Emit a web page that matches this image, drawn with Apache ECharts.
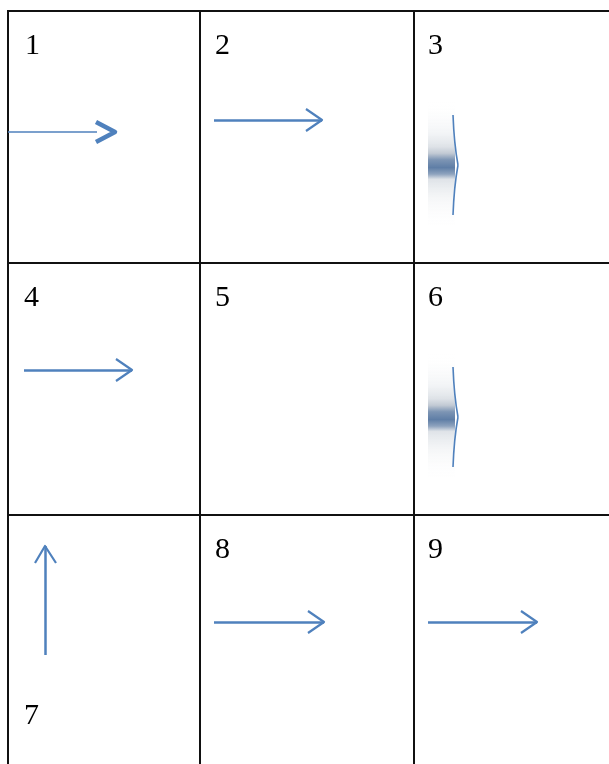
<!DOCTYPE html>
<html>
<head>
<meta charset="utf-8">
<title>grid</title>
<script src="https://cdn.jsdelivr.net/npm/echarts@6/dist/echarts.min.js"></script>
<style>
html, body { margin: 0; padding: 0; background: #fff; }
#main { width: 609px; height: 764px; }
</style>
</head>
<body>
<div id="main"></div>
<script type="text/javascript">
// table borders (in page units, same scale as the axes)
var colEdges = [8, 200, 414];
var rowEdges = [11, 263, 515];

// cell numbers and where they sit
var cellLabels = ['1', '2', '3', '4', '5', '6', '7', '8', '9'];
var labelX = [25, 215, 428, 24, 215, 428, 24, 215, 428];
var labelY = [46, 46, 46, 298, 298, 298, 716, 550, 550];

// arrow shafts: [x1, y1, x2, y2]
var shafts = [
    [8, 132, 97, 132],
    [214, 120, 322, 120],
    [24, 370, 132, 370],
    [45, 655, 45, 546],
    [214, 622, 324, 622],
    [428, 622, 537, 622]
];
// arrow heads: [tipX, tipY, wingA x, y, wingB x, y]
var heads = [
    [115, 132, 96, 122, 96, 142],
    [322, 120, 306, 109, 306, 131],
    [132, 370, 116, 359, 116, 381],
    [45, 546, 35, 563, 56, 563],
    [324, 622, 308, 611, 308, 633],
    [537, 622, 521, 611, 521, 633]
];
var headWidth = [4.5, 2.2, 2.2, 2.2, 2.2, 2.2];

// blurred marks in cells 3 and 6: [centerX, centerY]
var blobs = [[442, 165], [442, 417]];

var blue = '#4f81bd';

var myChart = echarts.init(document.getElementById('main'));

var borderLines = [];
colEdges.forEach(function (x) {
    borderLines.push({ coords: [[x, rowEdges[0]], [x, 764]] });
});
rowEdges.forEach(function (y) {
    borderLines.push({ coords: [[colEdges[0] - 1, y], [609, y]] });
});

var shaftLines = shafts.map(function (s, i) {
    return {
        coords: [[s[0], s[1]], [s[2], s[3]]],
        lineStyle: { width: i === 0 ? 1.5 : 2.5 }
    };
});

option = {
    animation: false,
    grid: { left: 0, right: 0, top: 0, bottom: 0 },
    xAxis: { type: 'value', min: 0, max: 609, show: false },
    yAxis: { type: 'value', min: 0, max: 764, inverse: true, show: false },
    series: [
        {
            type: 'custom',
            name: 'blobs',
            data: blobs,
            renderItem: function (params, api) {
                var cx = api.value(0), cy = api.value(1);
                var tl = api.coord([cx - 14, cy - 65]);
                var br = api.coord([cx + 13, cy + 65]);
                var top = api.coord([cx + 11, cy - 50]);
                var bot = api.coord([cx + 11, cy + 50]);
                var peak = api.coord([cx + 16, cy]);
                var cTop = api.coord([cx + 12, cy - 22]);
                var cBot = api.coord([cx + 12, cy + 22]);
                return {
                    type: 'group',
                    children: [
                        {
                            type: 'rect',
                            shape: { x: tl[0], y: tl[1], width: br[0] - tl[0], height: br[1] - tl[1] },
                            style: {
                                fill: new echarts.graphic.LinearGradient(0, 0, 0, 1, [
                                    { offset: 0, color: 'rgba(255,255,255,0)' },
                                    { offset: 0.25, color: 'rgba(235,238,241,0.6)' },
                                    { offset: 0.36, color: 'rgba(222,226,231,1)' },
                                    { offset: 0.41, color: '#c2cad4' },
                                    { offset: 0.46, color: '#7d95b4' },
                                    { offset: 0.52, color: '#5f7ea6' },
                                    { offset: 0.57, color: '#8ea3be' },
                                    { offset: 0.61, color: '#dfe3e8' },
                                    { offset: 0.75, color: 'rgba(238,240,242,0.6)' },
                                    { offset: 1, color: 'rgba(255,255,255,0)' }
                                ])
                            }
                        },
                        {
                            type: 'bezierCurve',
                            shape: {
                                x1: top[0], y1: top[1], x2: peak[0], y2: peak[1],
                                cpx1: cTop[0], cpy1: cTop[1]
                            },
                            style: { stroke: blue, lineWidth: 1.6, fill: null }
                        },
                        {
                            type: 'bezierCurve',
                            shape: {
                                x1: peak[0], y1: peak[1], x2: bot[0], y2: bot[1],
                                cpx1: cBot[0], cpy1: cBot[1]
                            },
                            style: { stroke: blue, lineWidth: 1.6, fill: null }
                        }
                    ]
                };
            }
        },
        {
            type: 'lines',
            name: 'borders',
            coordinateSystem: 'cartesian2d',
            polyline: false,
            silent: true,
            lineStyle: { color: '#111', width: 2, opacity: 1 },
            data: borderLines
        },
        {
            type: 'lines',
            name: 'shafts',
            coordinateSystem: 'cartesian2d',
            silent: true,
            lineStyle: { color: blue, opacity: 1 },
            data: shaftLines
        },
        {
            type: 'custom',
            name: 'heads',
            data: heads,
            renderItem: function (params, api) {
                var tip = api.coord([api.value(0), api.value(1)]);
                var a = api.coord([api.value(2), api.value(3)]);
                var b = api.coord([api.value(4), api.value(5)]);
                return {
                    type: 'polyline',
                    shape: { points: [a, tip, b] },
                    style: { stroke: blue, lineWidth: headWidth[params.dataIndex], fill: null, lineJoin: 'round' }
                };
            }
        },
        {
            type: 'custom',
            name: 'labels',
            data: cellLabels.map(function (t, i) { return [labelX[i], labelY[i], t]; }),
            renderItem: function (params, api) {
                var p = api.coord([api.value(0), api.value(1)]);
                return {
                    type: 'text',
                    style: {
                        x: p[0], y: p[1],
                        text: cellLabels[params.dataIndex],
                        fill: '#000',
                        font: '30px "Liberation Serif", serif',
                        align: 'left',
                        verticalAlign: 'middle'
                    }
                };
            }
        }
    ]
};

myChart.setOption(option);
</script>
</body>
</html>
